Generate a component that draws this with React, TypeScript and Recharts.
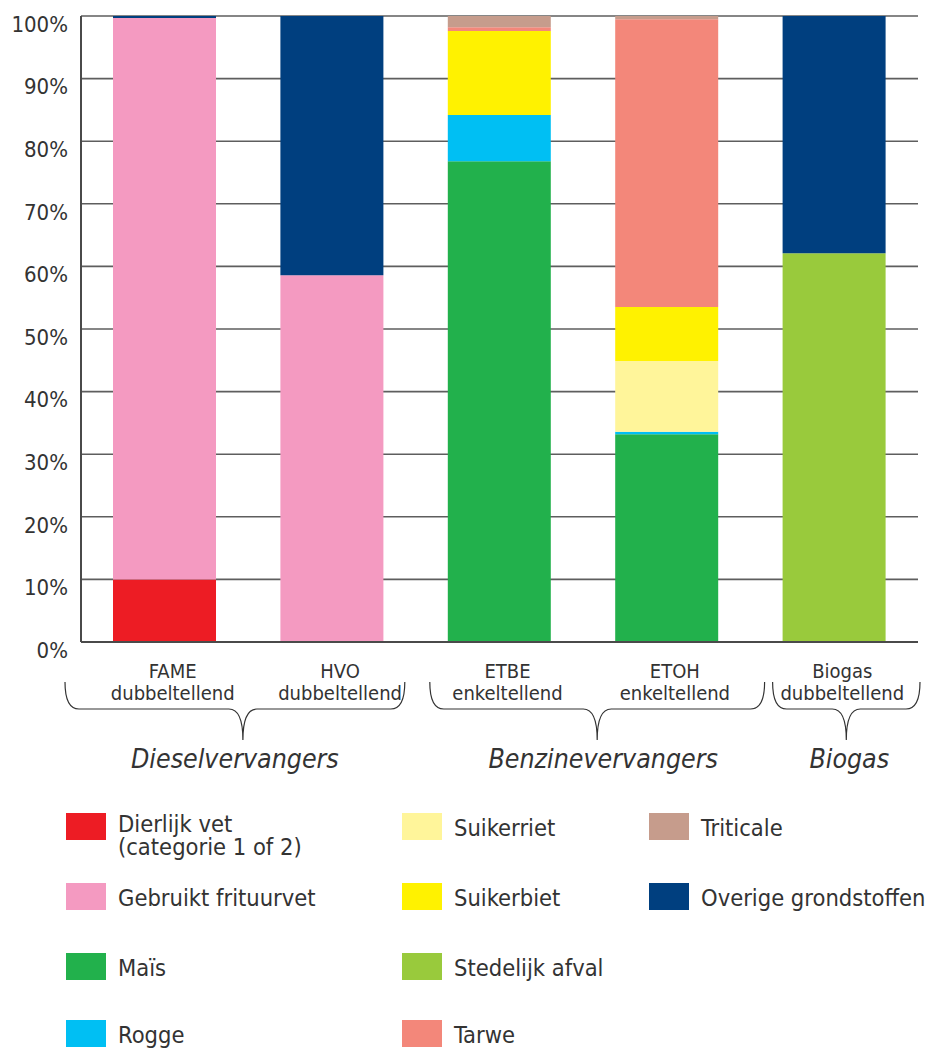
import { Bar, BarChart, CartesianGrid, XAxis, YAxis } from "recharts";

// categories + sub labels under each bar
const categories = ["FAME", "HVO", "ETBE", "ETOH", "Biogas"];
const subLabels = ["dubbeltellend", "dubbeltellend", "enkeltellend", "enkeltellend", "dubbeltellend"];

// groups spanning the categories (braces under the axis)
const groupNames = ["Dieselvervangers", "Benzinevervangers", "Biogas"];
const groupSizes = [2, 2, 1];

// share of each raw material, % per category (bottom to top)
const dierlijkVet = [10, 0, 0, 0, 0];
const frituurvet = [89.7, 58.6, 0, 0, 0];
const mais = [0, 0, 76.8, 33.2, 0];
const rogge = [0, 0, 7.4, 0.4, 0];
const suikerriet = [0, 0, 0, 11.3, 0];
const suikerbiet = [0, 0, 13.4, 8.6, 0];
const stedelijkAfval = [0, 0, 0, 0, 62.1];
const tarwe = [0, 0, 0.6, 46.0, 0];
const triticale = [0, 0, 1.8, 0.5, 0];
const overige = [0.3, 41.4, 0, 0, 37.9];

const seriesNames = [
  "Dierlijk vet\n(categorie 1 of 2)",
  "Gebruikt frituurvet",
  "Maïs",
  "Rogge",
  "Suikerriet",
  "Suikerbiet",
  "Stedelijk afval",
  "Tarwe",
  "Triticale",
  "Overige grondstoffen",
];
const seriesValues = [
  dierlijkVet, frituurvet, mais, rogge, suikerriet,
  suikerbiet, stedelijkAfval, tarwe, triticale, overige,
];
const seriesColors = [
  "#ed1c24", "#f49ac1", "#22b14c", "#00bff3", "#fff59a",
  "#fff200", "#99ca3c", "#f3877a", "#c69c8c", "#003f7f",
];

const yTicks = [0, 10, 20, 30, 40, 50, 60, 70, 80, 90, 100];

const data = categories.map((name, i) => {
  const row: Record<string, string | number> = { name };
  seriesValues.forEach((vals, s) => {
    row[`s${s}`] = vals[i];
  });
  return row;
});

const FONT = "'DejaVu Sans Condensed', 'DejaVu Sans', sans-serif";
const TEXT = "#333333";
const CHART_W = 926;
const CHART_H = 790;
const MARGIN = { top: 16, right: 8, bottom: 0, left: 0 };
const Y_W = 81;
const PLOT_W = CHART_W - MARGIN.right - Y_W;
const STEP = PLOT_W / categories.length;

// brace tweaks per group: [left shift, right shift, tip shift, label shift]
const braceAdjust = [
  [-16, -11, 8, -8],
  [14, 14, 0, 6],
  [22, 2, 0, 3],
];

function groupOf(index: number) {
  let start = 0;
  for (let g = 0; g < groupSizes.length; g++) {
    if (index === start) return g;
    start += groupSizes[g];
  }
  return -1;
}

function CategoryTick(props: any) {
  const { x, y, payload } = props;
  const i = payload.index;
  const g = groupOf(i);
  let brace = null;
  if (g >= 0) {
    const [dl, dr, dt, dlab] = braceAdjust[g];
    const left = x - STEP / 2 + dl;
    const right = x - STEP / 2 + groupSizes[g] * STEP + dr;
    const tip = (left + right) / 2 + dt;
    const top = y + 38;
    const mid = y + 65;
    const bottom = y + 96;
    const d = [
      `M${left},${top}`,
      `Q${left},${mid} ${left + 14},${mid}`,
      `L${tip - 14},${mid}`,
      `Q${tip},${mid} ${tip},${bottom}`,
      `Q${tip},${mid} ${tip + 14},${mid}`,
      `L${right - 14},${mid}`,
      `Q${right},${mid} ${right},${top}`,
    ].join(" ");
    brace = (
      <g>
        <path d={d} fill="none" stroke={TEXT} strokeWidth={1.2} />
        <text
          x={tip + dlab}
          y={y + 124}
          textAnchor="middle"
          fontFamily={FONT}
          fontStyle="italic"
          fontSize={26.5}
          fill={TEXT}
        >
          {groupNames[g]}
        </text>
      </g>
    );
  }
  return (
    <g>
      <text x={x + 8} y={y + 34} textAnchor="middle" fontFamily={FONT} fontSize={20} fill={TEXT}>
        {payload.value}
      </text>
      <text x={x + 8} y={y + 56} textAnchor="middle" fontFamily={FONT} fontSize={20} fill={TEXT}>
        {subLabels[i]}
      </text>
      {brace}
    </g>
  );
}

const legendCols = [66, 402, 649];
const legendRows = [813, 883, 953, 1020];

export default function App() {
  return (
    <div
      style={{
        position: "absolute",
        left: 0,
        top: 0,
        width: 926,
        height: 1052,
        background: "#fff",
        overflow: "hidden",
      }}
    >
      <BarChart width={CHART_W} height={CHART_H} data={data} margin={MARGIN}>
        <CartesianGrid vertical={false} stroke="#5e5e5e" strokeWidth={1.6} />
        <XAxis
          dataKey="name"
          interval={0}
          tickLine={false}
          tickSize={0}
          height={CHART_H - MARGIN.top - 626}
          axisLine={{ stroke: "#4a4a4a", strokeWidth: 2 }}
          tick={(p: any) => <CategoryTick {...p} />}
        />
        <YAxis
          width={Y_W}
          domain={[0, 100]}
          ticks={yTicks}
          interval={0}
          tickLine={false}
          tickSize={0}
          tickMargin={13}
          axisLine={{ stroke: "#4a4a4a", strokeWidth: 2 }}
          tickFormatter={(v: number) => `${v}%`}
          tick={{ fill: TEXT, fontSize: 22, fontFamily: FONT, dy: 8 }}
        />
        {seriesNames.map((n, s) => (
          <Bar
            key={n}
            dataKey={`s${s}`}
            name={n}
            stackId="a"
            fill={seriesColors[s]}
            barSize={103}
            isAnimationActive={false}
          />
        ))}
      </BarChart>

      {seriesNames.map((n, s) => {
        const col = Math.floor(s / 4);
        const row = s % 4;
        const left = legendCols[col];
        const top = legendRows[row];
        const multi = n.includes("\n");
        return (
          <div key={n}>
            <div
              style={{
                position: "absolute",
                left,
                top,
                width: 40,
                height: 27,
                background: seriesColors[s],
              }}
            />
            <div
              style={{
                position: "absolute",
                left: left + 52,
                top: top + (multi ? 0 : 4),
                fontFamily: FONT,
                fontSize: 23.5,
                lineHeight: "23px",
                color: TEXT,
                whiteSpace: "pre",
              }}
            >
              {n}
            </div>
          </div>
        );
      })}
    </div>
  );
}
